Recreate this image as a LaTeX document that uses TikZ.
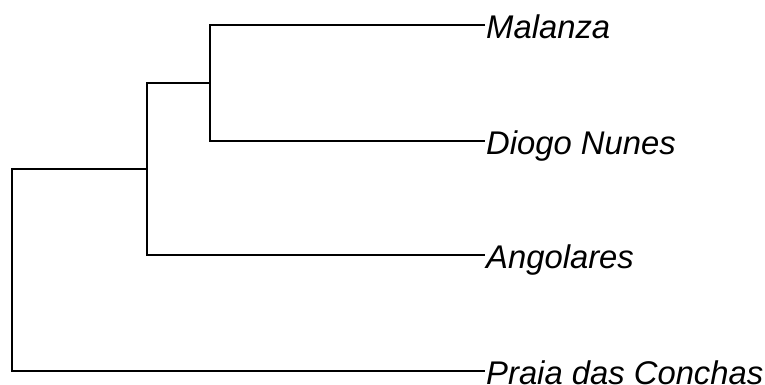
\documentclass[tikz,border=0pt]{standalone}
\usepackage{fontspec}
\setmainfont{Liberation Sans}
\begin{document}
\begin{tikzpicture}[x=1pt,y=-1pt,
  branch/.style={draw=black,line width=1.6pt},
  lab/.style={anchor=base west,inner sep=0pt,xshift=1pt,yshift=-13.5pt,
    font=\fontsize{32.8}{39}\selectfont\itshape}]
\useasboundingbox (0,0) rectangle (765,385);
\coordinate (l1) at (485,25);
\coordinate (l2) at (485,141);
\coordinate (l3) at (485,255);
\coordinate (l4) at (485,371);
\coordinate (n2) at (210,83);
\coordinate (n1) at (147,169);
\coordinate (r) at (12,270);
\draw[branch] (l1) -| (n2) |- (l2);
\draw[branch] (n2) -| (n1) |- (l3);
\draw[branch] (n1) -| (r) |- (l4);
\node[lab] (t1) at (l1) {Malanza};
\node[lab] (t2) at (l2) {Diogo Nunes};
\node[lab] (t3) at (l3) {Angolares};
\node[lab] (t4) at (l4) {Praia das Conchas};
\end{tikzpicture}
\end{document}
